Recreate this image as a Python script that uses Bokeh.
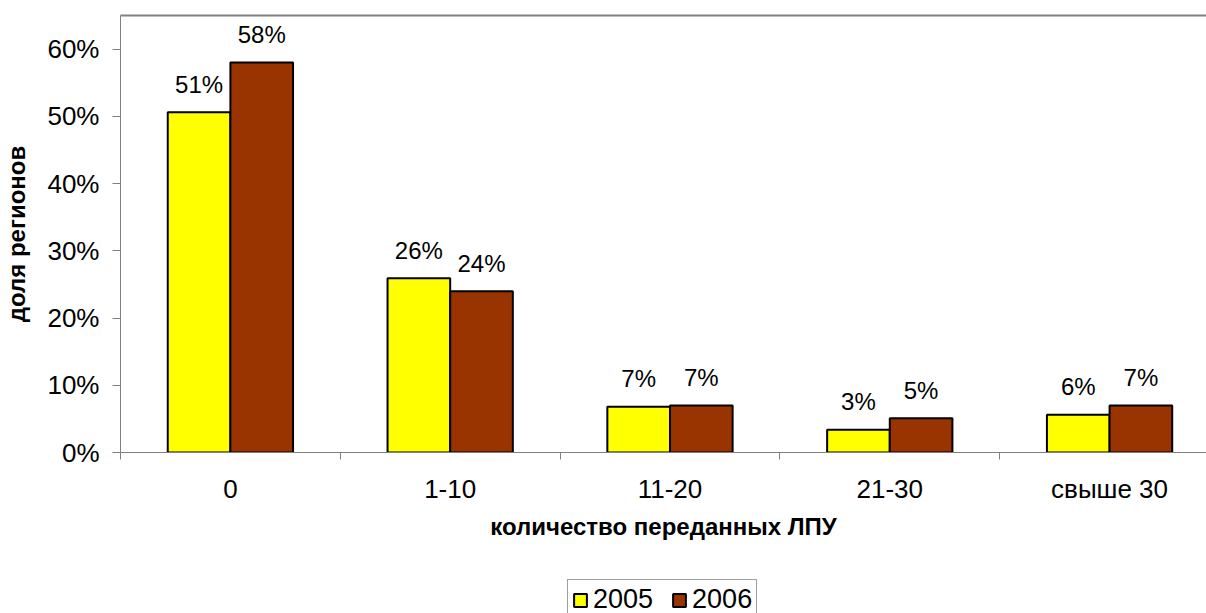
from bokeh.plotting import figure
from bokeh.layouts import column
from bokeh.models import Range1d, LinearAxis, FixedTicker, Legend, LegendItem, ColumnDataSource
from bokeh.core.properties import value
from bokeh.embed import file_html
from bokeh.resources import INLINE

# Share of regions (%) by number of transferred medical institutions
categories = ["0", "1-10", "11-20", "21-30", "свыше 30"]
series_names = ["2005", "2006"]
share_2005 = [50.6, 25.9, 6.8, 3.4, 5.6]
share_2006 = [58.0, 24.0, 7.0, 5.1, 7.0]
y_ticks = [0, 10, 20, 30, 40, 50, 60]
y_tick_labels = ["0%", "10%", "20%", "30%", "40%", "50%", "60%"]
colors = ["#FFFF00", "#993300"]

FONT = "Liberation Sans"
GRAY = "#808080"
BAR_W = 0.285

centers = [i + 0.5 for i in range(len(categories))]

p = figure(width=1206, height=560, output_backend="svg", toolbar_location=None,
           x_range=Range1d(0, 4.941), y_range=Range1d(0, 65),
           x_axis_type=None, y_axis_type=None,
           min_border_left=120, min_border_right=0,
           min_border_top=15, min_border_bottom=108)
p.outline_line_color = None
p.background_fill_color = "white"
p.border_fill_color = "white"

for k, (name, vals) in enumerate(zip(series_names, [share_2005, share_2006])):
    offset = (k - 0.5) * BAR_W
    src = ColumnDataSource(dict(
        x=[c + offset for c in centers],
        top=vals,
        label=[f"{round(v)}%" for v in vals],
    ))
    p.vbar(x="x", top="top", bottom=0, width=BAR_W, source=src,
           fill_color=colors[k], line_color="black", line_width=2)
    p.text(x="x", y="top", text="label", source=src,
           text_align="center", text_baseline="alphabetic", y_offset=-28,
           text_font=value(FONT), text_font_size="24px", text_color="black")

# y axis
yaxis = LinearAxis(
    ticker=FixedTicker(ticks=y_ticks, minor_ticks=[]),
    major_label_overrides={t: l for t, l in zip(y_ticks, y_tick_labels)},
    axis_line_color=GRAY, axis_line_width=1,
    major_tick_line_color=GRAY, major_tick_out=8, major_tick_in=0,
    minor_tick_out=0, minor_tick_in=0,
    major_label_text_font=FONT, major_label_text_font_size="26px",
    major_label_text_color="black", major_label_standoff=13,
    axis_label="доля регионов", axis_label_text_font=FONT,
    axis_label_text_font_size="24px", axis_label_text_font_style="bold",
    axis_label_text_color="black", axis_label_standoff=14,
)
p.add_layout(yaxis, "left")

# x axis: labels at category centres, ticks at category boundaries
xaxis = LinearAxis(
    ticker=FixedTicker(ticks=centers, minor_ticks=list(range(len(categories) + 1))),
    major_label_overrides={c: name for c, name in zip(centers, categories)},
    axis_line_color=GRAY, axis_line_width=1,
    major_tick_out=0, major_tick_in=0,
    minor_tick_line_color=GRAY, minor_tick_out=7, minor_tick_in=0,
    major_label_text_font=FONT, major_label_text_font_size="26px",
    major_label_text_color="black", major_label_standoff=14,
    axis_label="количество переданных ЛПУ", axis_label_text_font=FONT,
    axis_label_text_font_size="24px", axis_label_text_font_style="bold",
    axis_label_text_color="black", axis_label_standoff=6,
)
p.add_layout(xaxis, "below")

# top border line of the plotting area
top_line = LinearAxis(
    ticker=FixedTicker(ticks=[], minor_ticks=[]),
    axis_line_color=GRAY, axis_line_width=2,
    major_tick_out=0, major_tick_in=0, minor_tick_out=0, minor_tick_in=0,
    major_label_standoff=0, major_label_text_font_size="0px",
)
p.add_layout(top_line, "above")

# legend strip under the chart; the swatch glyphs are covered by the legend box
lg = figure(width=1206, height=53, output_backend="svg", toolbar_location=None,
            x_range=Range1d(0, 1), y_range=Range1d(0, 1),
            x_axis_type=None, y_axis_type=None,
            min_border_left=0, min_border_right=0, min_border_top=0, min_border_bottom=0)
lg.outline_line_color = None
lg.background_fill_color = "white"
lg.border_fill_color = "white"
swatches = [lg.vbar(x=[0.5], bottom=[0.1], top=[0.3], width=0.02,
                    fill_color=c, line_color="black", line_width=2)
            for c in colors]

legend = Legend(
    items=[LegendItem(label=n, renderers=[r]) for n, r in zip(series_names, swatches)],
    orientation="horizontal", location=(447, -7),
    border_line_color="#404040", border_line_width=1,
    background_fill_color="white", background_fill_alpha=1,
    padding=4, spacing=18, label_standoff=5, margin=0,
    glyph_width=16, glyph_height=16,
    label_text_font=FONT, label_text_font_size="27px", label_text_color="black",
)
lg.add_layout(legend, "center")

layout = column(p, lg, spacing=0)
open("out.html", "w").write(file_html(layout, INLINE))
